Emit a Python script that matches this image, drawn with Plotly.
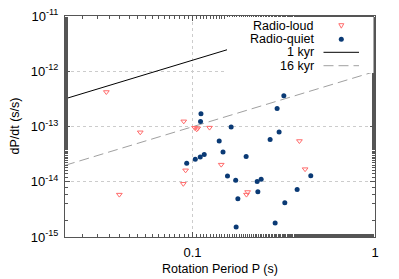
import numpy as np
import plotly.graph_objects as go

# Radio-loud pulsars (period s, period derivative s/s)
loud_P = [0.0337, 0.0517, 0.0397, 0.0895, 0.1028, 0.1054, 0.1068, 0.1239,
          0.1436, 0.0916, 0.0890, 0.2004, 0.1975, 0.3853, 0.4139]
loud_Pdot = [4.21e-13, 7.85e-14, 5.85e-15, 1.24e-13, 9.47e-14, 8.9e-14, 9.28e-14, 9.55e-14,
             2.04e-14, 1.61e-14, 9.18e-15, 6.52e-15, 5.85e-15, 5.46e-14, 1.69e-14]

# Radio-quiet pulsars
quiet_P = [0.1112, 0.1106, 0.1628, 0.3165, 0.2908, 0.2982, 0.2662, 0.1400,
           0.1469, 0.1967, 0.1159, 0.1102, 0.1035, 0.0929, 0.1554, 0.1724,
           0.2260, 0.2377, 0.2280, 0.1772, 0.1734, 0.4446, 0.3743, 0.3204, 0.2836]
quiet_Pdot = [1.70e-13, 1.23e-13, 9.8e-14, 3.62e-13, 2.12e-13, 7.95e-14, 5.82e-14, 5.46e-14,
              3.46e-14, 2.85e-14, 3.10e-14, 2.81e-14, 2.55e-14, 2.16e-14, 1.27e-14, 1.06e-14,
              1.006e-14, 1.107e-14, 6.58e-15, 4.91e-15, 1.52e-15, 1.28e-14, 7.21e-15, 4.16e-15, 1.79e-15]

# Characteristic-age lines: Pdot = P / (2 tau)
age_kyr = [1, 16]
age_names = ["1 kyr", "16 kyr"]
line_P = [0.02, 1.0]
YEAR_S = 3.156e7

x_tickvals = [0.1, 1]
x_ticktext = ["0.1", "1"]
y_tickvals = [1e-15, 1e-14, 1e-13, 1e-12, 1e-11]
y_ticktext = ["10<sup>-15</sup>", "10<sup>-14</sup>", "10<sup>-13</sup>",
              "10<sup>-12</sup>", "10<sup>-11</sup>"]

FONT = "Liberation Sans, Arial, sans-serif"
RED = "#ff6a6a"
BLUE = "#0a3a75"

fig = go.Figure()

line_styles = [dict(color="black", width=1, dash="solid"),
               dict(color="#a0a0a0", width=1, dash="10px,5px")]
for age, name, st in zip(age_kyr, age_names, line_styles):
    tau = age * 1e3 * YEAR_S
    fig.add_trace(go.Scatter(x=line_P, y=[p / (2 * tau) for p in line_P], mode="lines",
                             line=st, name=name, showlegend=False, hoverinfo="skip"))

fig.add_trace(go.Scatter(x=loud_P, y=loud_Pdot, mode="markers", name="Radio-loud",
                         marker=dict(symbol="triangle-down-open", size=5, color=RED,
                                     line=dict(width=1, color=RED)),
                         showlegend=False))
fig.add_trace(go.Scatter(x=quiet_P, y=quiet_Pdot, mode="markers", name="Radio-quiet",
                         marker=dict(symbol="circle", size=5, color=BLUE),
                         showlegend=False))

# Page body has an 8px margin; layout numbers below are window pixels.
OFF = 8
L, R, T, B = 65, 375, 16, 237
W, H = 399 - OFF, 279 - OFF
def px(x):
    return (x - L) / (R - L)
def py(y):
    return (B - y) / (B - T)

shapes = [dict(type="rect", xref="paper", yref="paper", x0=px(227), x1=px(373.5),
               y0=py(73), y1=py(17), fillcolor="white", line=dict(width=0), layer="above")]
rows = [25.7, 39.3, 52.3, 65.7]
labels = ["Radio-loud", "Radio-quiet", "1 kyr", "16 kyr"]
annotations = []
for yy, lab in zip(rows, labels):
    annotations.append(dict(x=px(316), y=py(yy), xref="paper", yref="paper", text=lab,
                            showarrow=False, xanchor="right", yanchor="middle",
                            font=dict(family=FONT, size=12.5, color="black")))
# triangle sample
cx, cy = 341.3, 25.7
shapes.append(dict(type="path", xref="paper", yref="paper",
                   path=f"M {px(cx-2.5)} {py(cy-2)} L {px(cx+2.5)} {py(cy-2)} L {px(cx)} {py(cy+2.5)} Z",
                   line=dict(color=RED, width=1), fillcolor="white", layer="above"))
cx, cy = 341.3, 39.3
shapes.append(dict(type="circle", xref="paper", yref="paper",
                   x0=px(cx-2.5), x1=px(cx+2.5), y0=py(cy+2.5), y1=py(cy-2.5),
                   fillcolor=BLUE, line=dict(width=0), layer="above"))
for yy, st in zip(rows[2:], line_styles):
    shapes.append(dict(type="line", xref="paper", yref="paper", x0=px(323.5), x1=px(359),
                       y0=py(yy), y1=py(yy), line=st, layer="above"))

# Axis titles
annotations.append(dict(x=px(220), y=py(269), xref="paper", yref="paper",
                        text="Rotation Period P (s)", showarrow=False,
                        xanchor="center", yanchor="middle",
                        font=dict(family=FONT, size=12.5, color="black")))
annotations.append(dict(x=px(14), y=py(126.5), xref="paper", yref="paper",
                        text="dP/dt (s/s)", showarrow=False, textangle=-90,
                        xanchor="center", yanchor="middle",
                        font=dict(family=FONT, size=12.5, color="black")))

axis_common = dict(type="log", showline=True, mirror="allticks", linecolor="#555", linewidth=1,
                   ticks="inside", ticklen=5, tickcolor="#555", automargin=False,
                   showgrid=True, gridcolor="#cccccc", griddash="dot", gridwidth=1,
                   zeroline=False, ticklabeloverflow="allow",
                   tickfont=dict(family=FONT, size=13, color="black"),
                   minor=dict(ticks="inside", ticklen=3, tickcolor="#555", showgrid=False))

fig.update_layout(
    template="none",
    width=W, height=H,
    margin=dict(l=L - OFF, r=399 - R, t=T - OFF, b=279 - B, autoexpand=False),
    paper_bgcolor="white", plot_bgcolor="white",
    showlegend=False,
    font=dict(family=FONT, size=12, color="black"),
    xaxis=dict(axis_common, range=[np.log10(0.02), 1e-5], tickvals=x_tickvals, ticktext=x_ticktext,
               ticklabelstandoff=3),
    yaxis=dict(axis_common, range=[-15.00001, -10.99999], tickvals=y_tickvals, ticktext=y_ticktext,
               ticklabelstandoff=3),
    shapes=shapes,
    annotations=annotations,
)

fig.write_html("out.html")
